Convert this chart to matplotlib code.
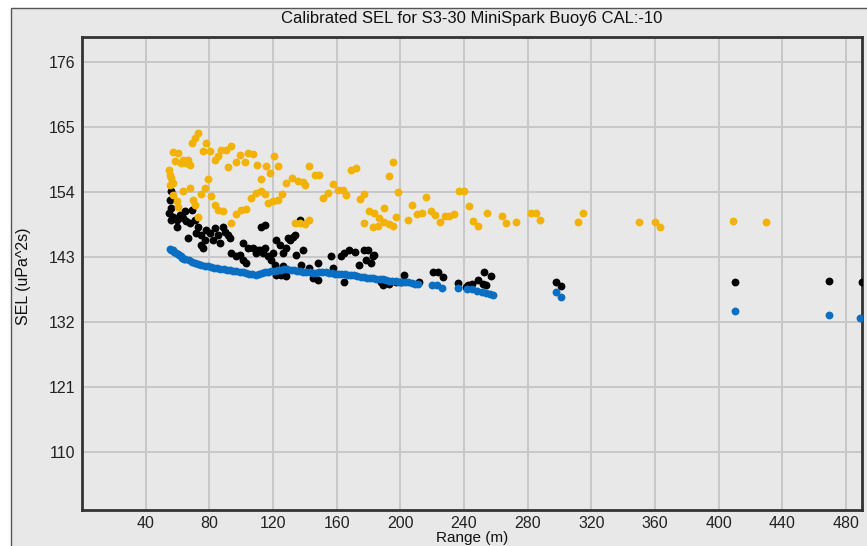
# Calibrated SEL vs range, three series of points on a gray panel

import matplotlib
matplotlib.use('Agg')
import matplotlib.pyplot as plt
from matplotlib.patches import Rectangle

# axis ticks
x_ticks = [40, 80, 120, 160, 200, 240, 280, 320, 360, 400, 440, 480]
y_ticks = [110, 121, 132, 143, 154, 165, 176]

# orange series
orange_x = [72.9, 70.8, 69.4, 77.7, 75.7, 80.3, 57.2, 60.4, 63.5, 66.6,
            65.6, 58.3, 62.5, 67.7, 54.7, 55.2, 56.2, 55.2, 56.9, 83.4,
            85.5, 87.6, 90.7, 93.9, 99.1, 104.3, 107.4, 97.0, 102.2, 91.7,
            109.9, 115.4, 117.9, 120.6, 123.1, 112.7, 79.2, 63.5, 67.7, 57.2,
            59.4, 60.4, 69.8, 70.8, 72.9, 77.1, 75.0, 81.3, 83.4, 85.5,
            88.6, 93.9, 97.0, 100.1, 103.3, 106.4, 109.5, 112.7, 114.7, 116.8,
            119.9, 123.1, 125.8, 128.3, 131.7, 135.6, 138.7, 140.4, 142.9, 146.1,
            148.8, 151.3, 154.4, 157.6, 160.7, 163.8, 166.0, 168.7, 172.0, 174.5,
            177.4, 192.7, 195.6, 198.3, 180.6, 183.7, 186.8, 190.0, 197.3, 176.9,
            182.6, 185.8, 190.0, 193.1, 195.2, 204.6, 133.5, 136.7, 139.8, 142.5,
            207.3, 210.7, 213.6, 216.1, 219.2, 221.9, 225.0, 228.2, 230.7, 233.9,
            237.0, 240.1, 243.3, 245.9, 248.9, 254.7, 263.8, 266.5, 272.5, 281.9,
            285.1, 287.8, 311.6, 314.7, 349.8, 359.7, 362.8, 408.8, 429.7]
orange_y = [164.0, 163.1, 162.3, 162.2, 161.0, 161.0, 160.8, 160.6, 159.4, 159.4,
            158.9, 159.2, 158.9, 158.6, 157.7, 156.9, 156.3, 155.2, 155.5, 159.4,
            160.0, 161.1, 161.1, 161.8, 160.3, 160.6, 160.4, 159.0, 159.0, 158.2,
            158.6, 158.3, 157.2, 160.1, 158.4, 156.1, 156.1, 154.1, 154.6, 153.5,
            152.4, 151.5, 152.7, 151.8, 149.8, 154.6, 153.7, 153.3, 151.8, 151.0,
            150.8, 148.8, 150.2, 151.0, 151.1, 153.0, 153.8, 154.1, 153.7, 152.1,
            152.5, 152.7, 153.7, 155.5, 156.4, 155.8, 155.6, 155.2, 158.3, 156.9,
            156.9, 153.0, 153.8, 155.4, 154.4, 154.4, 153.4, 157.7, 158.1, 152.8,
            153.7, 156.7, 159.0, 153.9, 150.7, 150.5, 149.6, 151.3, 149.7, 148.7,
            148.0, 148.3, 148.9, 148.5, 148.3, 149.2, 148.7, 148.8, 148.6, 149.2,
            151.8, 150.3, 150.4, 153.2, 150.8, 150.1, 148.9, 150.0, 150.0, 150.2,
            154.1, 154.1, 151.6, 149.1, 148.3, 150.4, 149.9, 148.7, 148.9, 150.5,
            150.4, 149.2, 148.9, 150.4, 148.9, 148.9, 148.1, 149.0, 148.9]

# black series
black_x = [56.2, 55.2, 56.2, 54.7, 57.2, 56.2, 59.4, 61.4, 63.5, 65.6,
           64.6, 68.8, 67.7, 70.8, 72.9, 59.4, 66.6, 71.9, 75.0, 78.2,
           77.1, 75.0, 76.1, 80.3, 83.4, 85.5, 82.3, 86.5, 88.6, 91.7,
           92.8, 89.7, 101.1, 104.3, 93.9, 97.0, 103.3, 107.4, 111.6, 114.7,
           112.7, 114.7, 109.5, 119.9, 118.9, 126.2, 128.3, 129.3, 126.2, 99.1,
           101.1, 110.5, 113.7, 116.8, 121.0, 122.1, 124.1, 130.4, 132.5, 125.2,
           128.3, 122.1, 133.5, 136.7, 134.6, 138.7, 137.7, 142.9, 145.0, 148.2,
           148.2, 156.6, 162.8, 164.9, 168.0, 171.2, 174.3, 177.4, 179.5, 178.5,
           182.6, 181.6, 183.7, 157.6, 164.9, 187.9, 188.9, 193.1, 197.3, 202.5,
           200.4, 211.9, 220.3, 223.4, 226.5, 235.9, 241.2, 242.2, 245.3, 248.5,
           251.6, 253.7, 252.7, 256.9, 297.6, 300.8, 410.0, 469.4, 489.7]
black_y = [154.1, 152.7, 151.3, 150.4, 149.8, 149.3, 149.3, 150.1, 149.6, 149.0,
           150.7, 151.0, 148.7, 149.3, 148.1, 148.1, 146.2, 147.0, 146.7, 147.6,
           145.9, 145.0, 144.5, 147.0, 147.9, 146.7, 145.9, 145.3, 148.1, 146.7,
           146.2, 147.3, 145.3, 144.5, 143.6, 143.1, 141.9, 144.5, 144.2, 144.5,
           148.1, 148.4, 143.6, 143.6, 142.5, 143.6, 144.5, 146.2, 141.4, 143.3,
           142.5, 144.2, 143.6, 143.1, 141.6, 145.9, 145.0, 145.9, 146.4, 140.0,
           139.7, 140.0, 146.7, 149.3, 143.3, 144.2, 141.6, 141.1, 139.4, 139.1,
           141.9, 143.1, 143.1, 143.6, 144.2, 143.9, 141.6, 144.2, 144.2, 142.5,
           143.1, 141.9, 143.3, 141.1, 138.8, 138.8, 138.3, 138.5, 138.8, 140.0,
           138.8, 138.8, 140.5, 140.5, 139.6, 138.6, 138.0, 138.3, 138.5, 139.1,
           138.5, 138.3, 140.5, 139.7, 138.8, 138.1, 138.8, 139.0, 138.8]

# blue series
blue_x = [55, 56, 57, 58, 59, 60, 61, 62, 63, 64,
          65, 67, 69, 71, 73, 75, 77, 79, 81, 83,
          85, 87, 89, 91, 93, 95, 97, 99, 101, 103,
          105, 107, 109, 111, 113, 115, 117, 119, 121, 123,
          125, 127, 129, 131, 133, 135, 137, 139, 141, 143,
          145, 147, 149, 151, 153, 155, 157, 159, 161, 163,
          165, 167, 169, 171, 173, 175, 177, 179, 181, 183,
          185, 187, 189, 191, 193, 195, 197, 199, 201, 203,
          205, 207, 209, 211, 220, 223, 226, 236, 242, 245,
          248, 251, 254, 256, 258, 298, 301, 410, 469, 489]
blue_y = [144.3, 144.2, 144.1, 143.9, 143.7, 143.5, 143.3, 143.1, 142.9, 142.7,
          142.6, 142.4, 142.2, 142.0, 141.8, 141.7, 141.5, 141.4, 141.3, 141.2,
          141.1, 141.0, 140.9, 140.8, 140.8, 140.7, 140.6, 140.5, 140.4, 140.3,
          140.2, 140.1, 140.0, 140.1, 140.3, 140.4, 140.5, 140.6, 140.7, 140.8,
          140.8, 140.9, 140.9, 140.8, 140.8, 140.7, 140.6, 140.5, 140.4, 140.4,
          140.3, 140.3, 140.4, 140.5, 140.4, 140.3, 140.3, 140.2, 140.2, 140.1,
          140.1, 140.0, 139.9, 139.9, 139.8, 139.6, 139.6, 139.5, 139.4, 139.4,
          139.3, 139.3, 139.2, 139.1, 139.0, 139.0, 138.9, 138.8, 138.8, 138.7,
          138.7, 138.6, 138.5, 138.5, 138.2, 138.2, 137.7, 137.8, 137.6, 137.6,
          137.3, 137.1, 136.9, 136.8, 136.6, 137.0, 136.2, 133.9, 133.2, 132.6]

plt.rcParams['font.family'] = ['Liberation Sans', 'DejaVu Sans']

W, H = 867, 546
fig = plt.figure(figsize=(W / 100, H / 100), dpi=100)
fig.patch.set_facecolor('white')

# gray window panel behind everything
panel = Rectangle((11 / W, -0.05), 1.1, 1 - 8 / H + 0.05, transform=fig.transFigure,
                  facecolor='#e8e8e8', edgecolor='#555555', lw=1.0, zorder=-10)
fig.patches.append(panel)

left, right, top, bottom = 82, 862, 37, 510
ax = fig.add_axes([left / W, 1 - bottom / H, (right - left) / W, (bottom - top) / H])
ax.set_facecolor('#e8e8e8')

ms = 32
ax.scatter(black_x, black_y, s=ms, color='#000000', linewidths=0, zorder=3)
ax.scatter(orange_x, orange_y, s=ms, color='#f2b200', linewidths=0, zorder=4)
ax.scatter(blue_x, blue_y, s=ms, color='#0a6fc2', linewidths=0, zorder=5)

ax.set_xlim(0, 490)
ax.set_ylim(100.2, 180.2)
ax.set_xticks(x_ticks)
ax.set_yticks(y_ticks)
ax.grid(True, color='#c8c8c8', lw=1.4)
ax.set_axisbelow(True)
ax.tick_params(length=0, labelsize=11.5, labelcolor='#222222', pad=5)
ax.tick_params(axis='x', pad=4)

for s in ax.spines.values():
    s.set_color('#333333')
    s.set_linewidth(2)

fig.text(472 / W, 1 - 19 / H, 'Calibrated SEL for S3-30 MiniSpark Buoy6 CAL:-10',
         ha='center', va='center', fontsize=12, color='#111111')
fig.text(24 / W, 1 - 276 / H, 'SEL (uPa^2s)', rotation=90,
         ha='center', va='center', fontsize=11.5, color='#111111')
fig.text(472 / W, 1 - 538 / H, 'Range (m)',
         ha='center', va='center', fontsize=11, color='#111111')

fig.savefig('out.png', dpi=100)
